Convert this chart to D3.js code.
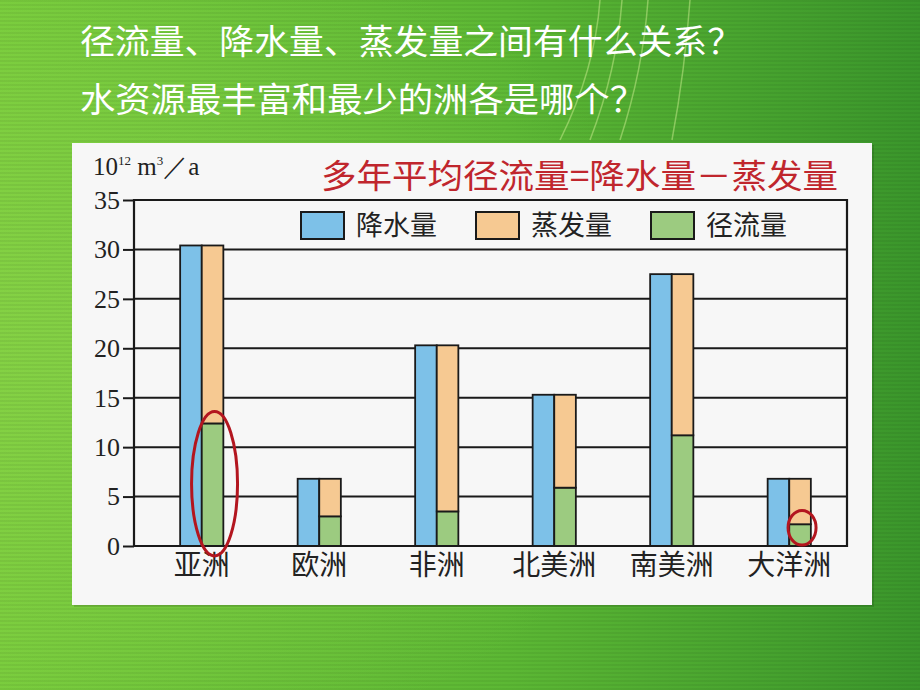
<!DOCTYPE html>
<html>
<head>
<meta charset="utf-8">
<script src="https://cdn.jsdelivr.net/npm/d3@7"></script>
<style>
html,body{margin:0;padding:0;background:#5cb833;}
svg{display:block;}
</style>
</head>
<body>
<svg id="chart" width="920" height="690"></svg>
<script>
// ---- data ----
const categories = ["亚洲", "欧洲", "非洲", "北美洲", "南美洲", "大洋洲"];
const precipitation = [30.4, 6.8, 20.3, 15.3, 27.5, 6.8];   // 降水量
const runoff = [12.4, 3.0, 3.5, 5.9, 11.2, 2.2];             // 径流量
const evaporation = [18.0, 3.8, 16.8, 9.4, 16.3, 4.6];       // 蒸发量
const seriesNames = ["降水量", "蒸发量", "径流量"];
const yTicks = [0, 5, 10, 15, 20, 25, 30, 35];
const headingLines = ["径流量、降水量、蒸发量之间有什么关系？", "水资源最丰富和最少的洲各是哪个？"];
const formulaTitle = "多年平均径流量=降水量－蒸发量";
const highlighted = [{cat: "亚洲", lo: -1.0, hi: 13.6}, {cat: "大洋洲", lo: 0.1, hi: 3.6}];

const colors = {"降水量": "#7dc1e8", "蒸发量": "#f6c992", "径流量": "#9ccb80"};

const svg = d3.select("#chart");
const W = 920, H = 690;

// ---- background ----
const defs = svg.append("defs");
const bg = defs.append("linearGradient").attr("id", "bgGrad").attr("x1", 0).attr("x2", 1).attr("y1", 0).attr("y2", 0);
bg.append("stop").attr("offset", 0).attr("stop-color", "#78cc3c");
bg.append("stop").attr("offset", 0.55).attr("stop-color", "#5cb834");
bg.append("stop").attr("offset", 1).attr("stop-color", "#3a962b");
const pat = defs.append("pattern").attr("id", "stripes").attr("width", 8).attr("height", 4).attr("patternUnits", "userSpaceOnUse");
pat.append("rect").attr("width", 8).attr("height", 2).attr("fill", "#000").attr("opacity", 0.05);
svg.append("rect").attr("width", W).attr("height", H).attr("fill", "url(#bgGrad)");
const glow = defs.append("radialGradient").attr("id", "glow").attr("cx", 0.15).attr("cy", 0.5).attr("r", 0.6);
glow.append("stop").attr("offset", 0).attr("stop-color", "#a6e05a").attr("stop-opacity", 0.35);
glow.append("stop").attr("offset", 1).attr("stop-color", "#a6e05a").attr("stop-opacity", 0);
svg.append("rect").attr("width", W).attr("height", H).attr("fill", "url(#glow)");
svg.append("rect").attr("width", W).attr("height", H).attr("fill", "url(#stripes)");
// decorative light arcs
[[600, 0, 560, 140], [622, 0, 590, 140], [648, 0, 620, 140], [690, 0, 672, 140]].forEach(a => {
  svg.append("path")
    .attr("d", `M${a[0]},${a[1]} Q${a[0] - 5},${70} ${a[2]},${a[3]}`)
    .attr("fill", "none").attr("stroke", "#d8f59a").attr("stroke-opacity", 0.45).attr("stroke-width", 1.5);
});

// ---- heading ----
svg.selectAll("text.heading").data(headingLines).join("text")
  .attr("class", "heading")
  .attr("x", 80).attr("y", (d, i) => 54 + i * 58)
  .attr("font-family", "'Noto Sans CJK SC', sans-serif")
  .attr("font-size", 34).attr("fill", "#ffffff")
  .attr("textLength", (d, i) => i === 0 ? 662 : 565)
  .attr("lengthAdjust", "spacingAndGlyphs")
  .text(d => d);

// ---- white panel ----
svg.append("rect").attr("x", 74).attr("y", 145).attr("width", 800).attr("height", 462).attr("fill", "#000").attr("opacity", 0.12);
svg.append("rect").attr("x", 72).attr("y", 143).attr("width", 800).attr("height", 462).attr("fill", "#f7f7f7");

// ---- scales ----
const x = d3.scaleBand().domain(categories).range([143, 848]).padding(0);
const y = d3.scaleLinear().domain([0, 35]).range([546, 200]);
const barW = 21.6;
const plotL = 134, plotR = 847;
const cx = c => x(c) + x.bandwidth() / 2;

// gridlines
svg.append("g").selectAll("line").data(yTicks.filter(t => t > 0 && t < 35)).join("line")
  .attr("x1", plotL).attr("x2", plotR).attr("y1", d => y(d)).attr("y2", d => y(d))
  .attr("stroke", "#1a1a1a").attr("stroke-width", 2);

// ---- legend ----
const leg = svg.append("g").selectAll("g").data(seriesNames).join("g")
  .attr("transform", (d, i) => `translate(${301 + i * 175},212)`);
leg.append("rect").attr("width", 43).attr("height", 27).attr("fill", d => colors[d])
  .attr("stroke", "#1a1a1a").attr("stroke-width", 2);
leg.append("text").attr("x", 55).attr("y", 13.5).attr("dy", "0.36em")
  .attr("font-family", "'Noto Sans CJK SC', sans-serif").attr("font-size", 27).attr("fill", "#222")
  .text(d => d);

// ---- bars ----
const rows = categories.map((c, i) => ({c, p: precipitation[i], e: evaporation[i], r: runoff[i]}));
const barsG = svg.append("g");
// precipitation
barsG.selectAll("rect.p").data(rows).join("rect").attr("class", "p")
  .attr("x", d => cx(d.c) - barW).attr("width", barW)
  .attr("y", d => y(d.p)).attr("height", d => y(0) - y(d.p))
  .attr("fill", colors["降水量"]).attr("stroke", "#1a1a1a").attr("stroke-width", 1.8);
// runoff (bottom of stack)
barsG.selectAll("rect.r").data(rows).join("rect").attr("class", "r")
  .attr("x", d => cx(d.c)).attr("width", barW)
  .attr("y", d => y(d.r)).attr("height", d => y(0) - y(d.r))
  .attr("fill", colors["径流量"]).attr("stroke", "#1a1a1a").attr("stroke-width", 1.8);
// evaporation (stacked on runoff)
barsG.selectAll("rect.e").data(rows).join("rect").attr("class", "e")
  .attr("x", d => cx(d.c)).attr("width", barW)
  .attr("y", d => y(d.r + d.e)).attr("height", d => y(d.r) - y(d.r + d.e))
  .attr("fill", colors["蒸发量"]).attr("stroke", "#1a1a1a").attr("stroke-width", 1.8);

// ---- frame ----
svg.append("path")
  .attr("d", `M${plotL},${y(0)} V${y(35)} H${plotR} V${y(0)} Z`)
  .attr("fill", "none").attr("stroke", "#1a1a1a").attr("stroke-width", 2.2);

// ---- y axis ----
const yAxis = d3.axisLeft(y).tickValues(yTicks).tickSize(11).tickPadding(3);
const yg = svg.append("g").attr("transform", `translate(${plotL},0)`).call(yAxis);
yg.select(".domain").remove();
yg.selectAll(".tick line").attr("stroke", "#1a1a1a").attr("stroke-width", 2);
yg.selectAll(".tick text").attr("font-family", "'Liberation Serif', 'Times New Roman', serif")
  .attr("font-size", 26).attr("fill", "#222");

// ---- x axis labels ----
const xAxis = d3.axisBottom(x).tickSize(0).tickPadding(9);
const xg = svg.append("g").attr("transform", `translate(0,${y(0)})`).call(xAxis);
xg.select(".domain").remove();
xg.selectAll(".tick text").attr("font-family", "'Noto Sans CJK SC', sans-serif")
  .attr("font-size", 28).attr("fill", "#222");

// ---- unit label ----
const unit = svg.append("text").attr("x", 93).attr("y", 175)
  .attr("font-family", "'Liberation Serif', 'Times New Roman', serif").attr("font-size", 25).attr("fill", "#222");
unit.append("tspan").text("10");
unit.append("tspan").attr("font-size", 13).attr("dy", -10).text("12");
unit.append("tspan").attr("dy", 10).text(" m");
unit.append("tspan").attr("font-size", 13).attr("dy", -10).text("3");
unit.append("tspan").attr("dy", 10).text("／a");

// ---- formula title ----
svg.append("text").attr("x", 321).attr("y", 188)
  .attr("font-family", "'Noto Sans CJK SC', sans-serif").attr("font-size", 33).attr("fill", "#c0262d")
  .attr("textLength", 517).attr("lengthAdjust", "spacingAndGlyphs")
  .text(formulaTitle);

// ---- highlight ellipses ----
svg.append("g").selectAll("ellipse").data(highlighted).join("ellipse")
  .attr("cx", d => cx(d.cat) + barW / 2 + 2)
  .attr("cy", d => (y(d.lo) + y(d.hi)) / 2)
  .attr("rx", d => d.cat === "亚洲" ? 23 : 14)
  .attr("ry", d => (y(d.lo) - y(d.hi)) / 2)
  .attr("fill", "none").attr("stroke", "#b3161f").attr("stroke-width", 3);
</script>
</body>
</html>
